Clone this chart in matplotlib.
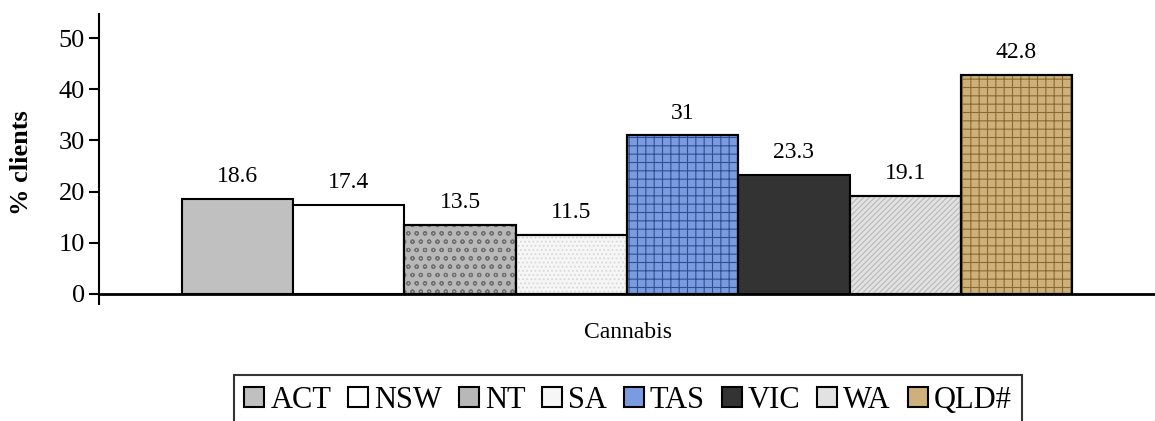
import matplotlib
matplotlib.use("Agg")
import matplotlib.pyplot as plt
import numpy as np

# data
category = "Cannabis"
states = ["ACT", "NSW", "NT", "SA", "TAS", "VIC", "WA", "QLD#"]
values = [18.6, 17.4, 13.5, 11.5, 31, 23.3, 19.1, 42.8]
labels = ["18.6", "17.4", "13.5", "11.5", "31", "23.3", "19.1", "42.8"]

# rough stand-ins for the textured fills
fills = ["#c0c0c0", "#ffffff", "#b8b8b8", "#f6f6f6", "#7a9be0", "#333333", "#e2e2e2", "#cdb07a"]
hatches = [None, None, "oo", "....", "++", None, "//////", "++"]
hatch_cols = [None, None, "#707070", "#d8d8d8", "#2f4f8f", None, "#b8b8b8", "#8a6a30"]

plt.rcParams["font.family"] = ["Liberation Serif", "DejaVu Serif"]
plt.rcParams["hatch.linewidth"] = 0.8

fig = plt.figure(figsize=(11.55, 4.21), dpi=100)
ax = fig.add_axes([99 / 1155, 1 - 294 / 421, 1 - 99 / 1155, 280 / 421])

n = len(states)
w = 0.843 / n
xs = (np.arange(n) - (n - 1) / 2) * w

bars = []
for i in range(n):
    b = ax.bar(xs[i], values[i], width=w, color=fills[i], edgecolor="black",
               linewidth=1.5, label=states[i], zorder=2)
    if hatches[i]:
        ax.bar(xs[i], values[i], width=w, color="none", edgecolor=hatch_cols[i],
               hatch=hatches[i], linewidth=0, zorder=2.5)
        ax.bar(xs[i], values[i], width=w, color="none", edgecolor="black",
               linewidth=1.5, zorder=3)
    bars.append(b)
    ax.text(xs[i], values[i] + 2.3, labels[i], ha="center", va="bottom",
            fontsize=17)

ax.set_xlim(-0.5, 0.5)
ax.set_ylim(0, 54.7)
ax.set_yticks([0, 10, 20, 30, 40, 50])
ax.tick_params(axis="y", direction="out", length=7, width=1.5, labelsize=19, pad=3)
ax.set_xticks([-0.5])
ax.set_xticklabels([""])
ax.tick_params(axis="x", direction="out", length=8, width=1.5)
for s in ["top", "right"]:
    ax.spines[s].set_visible(False)
ax.spines["left"].set_linewidth(1.5)
ax.spines["bottom"].set_linewidth(2)

ax.set_ylabel("% clients", fontsize=19, fontweight="bold")
ax.yaxis.set_label_coords(-66 / 1056, 0.47)
fig.text(628 / 1155, 1 - 333 / 421, category, ha="center", va="center", fontsize=17)

leg = fig.legend(handles=[b[0] for b in bars], labels=states, ncol=n,
                 loc="upper center", bbox_to_anchor=(628 / 1155, 1 - 375 / 421),
                 frameon=True, fancybox=False, edgecolor="black", fontsize=22,
                 handlelength=0.65, handleheight=0.65, handletextpad=0.2,
                 columnspacing=0.55, borderpad=0.35, borderaxespad=0)
leg.get_frame().set_linewidth(1.5)

fig.savefig("out.png", dpi=100)
